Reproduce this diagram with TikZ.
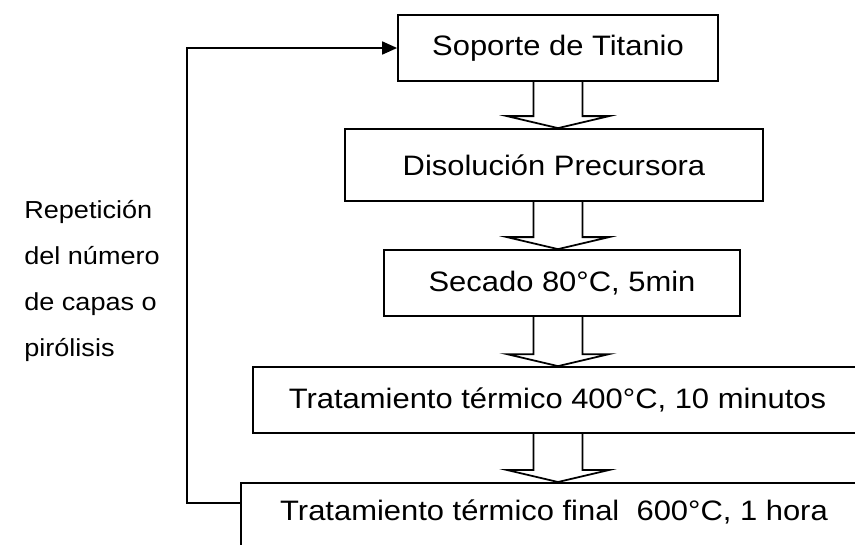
\documentclass[tikz,border=0pt]{standalone}
\usepackage{fontspec}
\setmainfont{Liberation Sans}[FakeStretch=1.1]
\usetikzlibrary{calc,arrows.meta}
\begin{document}
\begin{tikzpicture}[
  caja/.style={draw, rectangle, line width=1pt, inner sep=0pt, font=\fontsize{16}{19}\selectfont},
  flecha/.style={draw, line width=1pt, line join=miter}]
\useasboundingbox (0,0) rectangle (17.1,-10.88);
\clip (0,0) rectangle (17.1,-10.88);
\node[caja, minimum width=6.4cm, minimum height=1.32cm] (soporte) at (11.16,-0.96) {Soporte de Titanio};
\node[caja, minimum width=8.36cm, minimum height=1.44cm] (disol) at (11.08,-3.30) {Disolución Precursora};
\node[caja, minimum width=7.12cm, minimum height=1.32cm] (secado) at (11.24,-5.66) {Secado 80°C, 5min};
\node[caja, minimum width=12.18cm, minimum height=1.32cm] (trat) at (11.15,-8.0) {Tratamiento térmico 400°C, 10 minutos};
\node[caja, anchor=north, minimum width=12.52cm, text height=0.66cm, text depth=1cm, inner ysep=0.1cm] (final) at (11.08,-9.64) {Tratamiento térmico final\ \ 600°C, 1 hora};
\node[align=left, anchor=west, inner sep=0pt, font=\fontsize{14}{26.2}\selectfont] (repet) at (0.48,-5.62) {Repetición\\del número\\de capas o\\pirólisis};
% flechas anchas entre pasos
\foreach \a/\b in {soporte/disol, disol/secado, secado/trat, trat/final}
  \draw[flecha] let \p1=(\a.south), \p2=(\b.north) in
    (10.67cm,\y1) -- (10.67cm,\y2+0.24cm) -- (10.14cm,\y2+0.24cm) -- (11.16cm,\y2)
    -- (12.18cm,\y2+0.24cm) -- (11.65cm,\y2+0.24cm) -- (11.65cm,\y1);
% lazo de repeticion
\coordinate (esquina) at (3.74,-0.96);
\draw[line width=1pt, -{Triangle[length=0.3cm,width=0.26cm]}] ([yshift=-0.42cm]final.north west) -| (esquina) -- (soporte.west);
\end{tikzpicture}
\end{document}
